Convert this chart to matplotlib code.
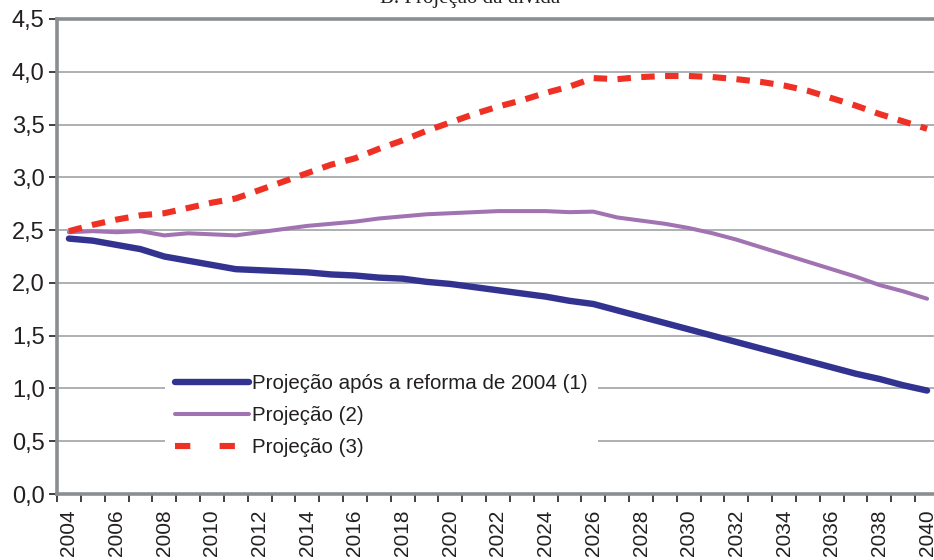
import matplotlib
matplotlib.use("Agg")
import matplotlib.pyplot as plt
from matplotlib.lines import Line2D
from matplotlib.ticker import FuncFormatter, MultipleLocator

plt.rcParams['font.family'] = ['Liberation Sans', 'DejaVu Sans']

# Data
years = list(range(2004, 2041))

proj_1 = [2.42, 2.40, 2.36, 2.32, 2.25, 2.21, 2.17, 2.13, 2.12, 2.11,
          2.10, 2.08, 2.07, 2.05, 2.04, 2.01, 1.99, 1.96, 1.93, 1.90,
          1.87, 1.83, 1.80, 1.74, 1.68, 1.62, 1.56, 1.50, 1.44, 1.38,
          1.32, 1.26, 1.20, 1.14, 1.09, 1.03, 0.98]

proj_2 = [2.48, 2.49, 2.48, 2.49, 2.45, 2.47, 2.46, 2.45, 2.48, 2.51,
          2.54, 2.56, 2.58, 2.61, 2.63, 2.65, 2.66, 2.67, 2.68, 2.68,
          2.68, 2.67, 2.675, 2.62, 2.59, 2.56, 2.52, 2.47, 2.41, 2.34,
          2.27, 2.20, 2.13, 2.06, 1.98, 1.92, 1.85]

proj_3 = [2.49, 2.55, 2.60, 2.64, 2.66, 2.71, 2.76, 2.80, 2.88, 2.96,
          3.04, 3.12, 3.18, 3.27, 3.35, 3.44, 3.52, 3.60, 3.67, 3.73,
          3.80, 3.86, 3.94, 3.93, 3.95, 3.96, 3.96, 3.95, 3.93, 3.905,
          3.87, 3.82, 3.75, 3.68, 3.60, 3.53, 3.46]

labels = ["Projeção após a reforma de 2004 (1)", "Projeção (2)", "Projeção (3)"]

c_blue = "#323390"
c_purple = "#a173b3"
c_red = "#ee3124"
c_grid = "#a6aaae"
c_axis = "#8b8e91"
c_text = "#231f20"

W, H = 934, 560
fig = plt.figure(figsize=(W / 100, H / 100), dpi=100)
ax = fig.add_axes([57 / W, 1 - 494 / H, (939 - 57) / W, (494 - 19) / H])

x = list(range(len(years)))
l1, = ax.plot(x, proj_1, color=c_blue, lw=4.6, solid_capstyle="round", zorder=4)
l2, = ax.plot(x, proj_2, color=c_purple, lw=2.9, solid_capstyle="round", zorder=3)
l3, = ax.plot(x, proj_3, color=c_red, lw=4.4, dashes=(2.2, 1.7),
              dash_capstyle="butt", zorder=3)

ax.set_xlim(-0.5, len(years) - 0.5)
ax.set_ylim(0, 4.5)

# y axis
ax.yaxis.set_major_locator(MultipleLocator(0.5))
ax.yaxis.set_major_formatter(FuncFormatter(lambda v, p: f"{v:.1f}".replace(".", ",")))
ax.grid(axis="y", color=c_grid, lw=1.3, zorder=0)
ax.tick_params(axis="y", length=6, width=1.2, color="#231f20", labelsize=17,
               labelcolor=c_text, pad=3)

# x axis: tick marks on category boundaries, labels in the middle
ax.set_xticks([i - 0.5 for i in range(len(years) + 1)])
ax.set_xticklabels([])
ax.tick_params(axis="x", which="major", length=6, width=1.2, color="#231f20")
ax.set_xticks([i for i, yr in enumerate(years) if yr % 2 == 0], minor=True)
ax.set_xticklabels([str(yr) for yr in years if yr % 2 == 0], minor=True,
                   rotation=90, fontsize=15, color=c_text)
ax.tick_params(axis="x", which="minor", length=0, pad=11)

for side in ["left", "bottom", "top"]:
    ax.spines[side].set_color(c_axis)
    ax.spines[side].set_linewidth(2.6)
ax.spines["right"].set_visible(False)

red_handle = Line2D([], [], color=c_red, lw=4.4, dashes=(2.5, 4.8), dash_capstyle="butt")
leg = ax.legend([l1, l2, red_handle], labels,
                loc="upper left", bbox_to_anchor=(165 / W, 1 - 364 / H),
                bbox_transform=fig.transFigure, frameon=True, fancybox=False,
                edgecolor="none", facecolor="white", framealpha=1,
                fontsize=14.8, handlelength=3.6, handletextpad=0.12,
                labelspacing=0.62, borderpad=0.5, borderaxespad=0)
for t in leg.get_texts():
    t.set_color(c_text)
leg.set_zorder(5)

# title, mostly cut off at the top of the picture
fig.text(0.503, 1 - 8 / H, "B. Projeção da dívida", ha="center", va="bottom",
         fontsize=15, family="Liberation Serif", color=c_text)

fig.savefig("out.png", dpi=100)
